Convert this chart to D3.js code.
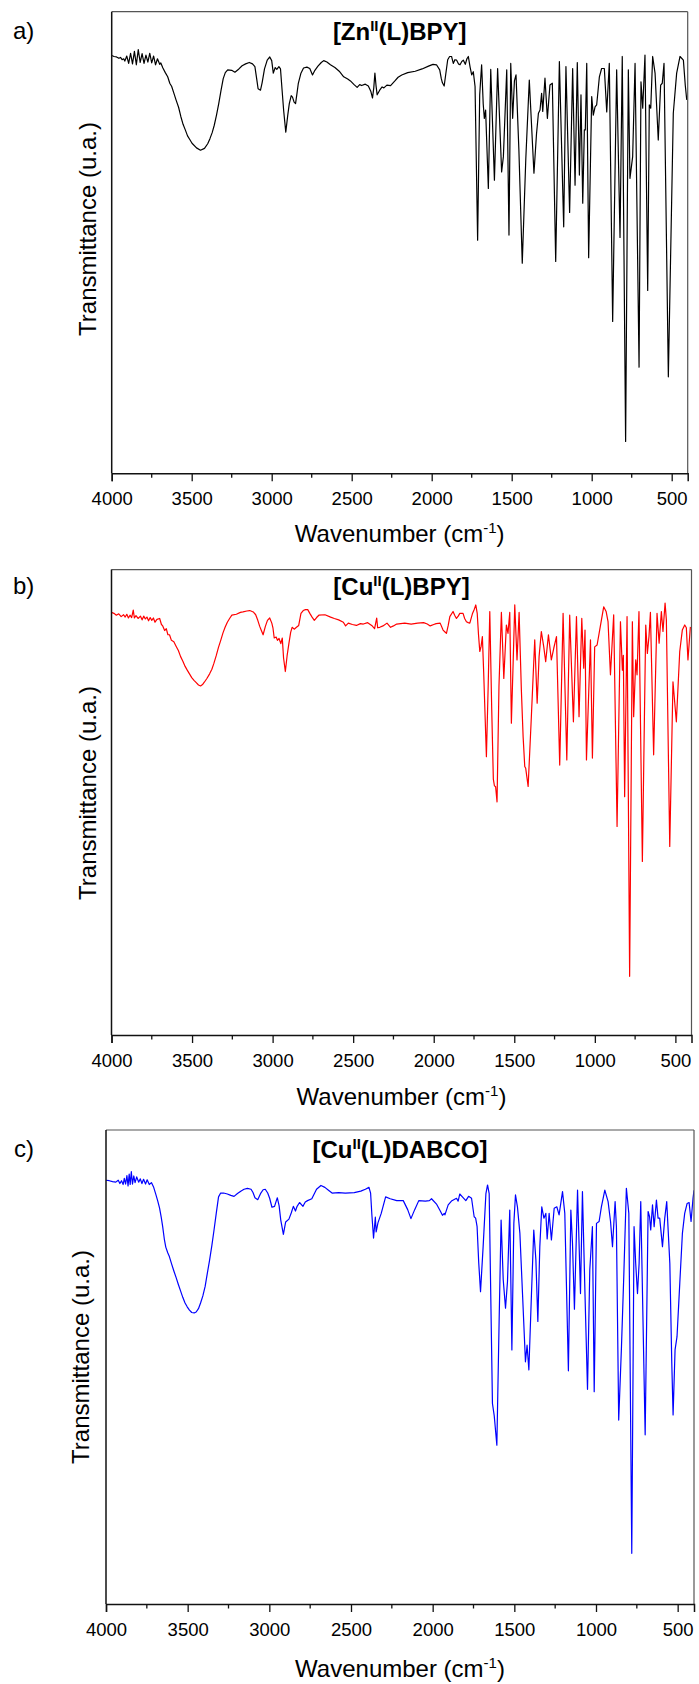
<!DOCTYPE html>
<html>
<head>
<meta charset="utf-8">
<script src="https://cdn.jsdelivr.net/npm/d3@7"></script>
<style>
  body { margin: 0; background: #fff; }
  svg { display: block; font-family: "Liberation Sans", Arial, sans-serif; }
</style>
</head>
<body>
<div id="chart"></div>
<script>
// axis ticks (wavenumber, cm-1)
const xTicks = [4000, 3500, 3000, 2500, 2000, 1500, 1000, 500];
const minorTicks = [3750, 3250, 2750, 2250, 1750, 1250, 750];

const panelLetters = ['a)', 'b)', 'c)'];
const titleHead = ['[Zn', '[Cu', '[Cu'];
const titleSup = ['II', 'II', 'II'];
const titleTail = ['(L)BPY]', '(L)BPY]', '(L)DABCO]'];
const lineColors = ['#000000', '#ff0000', '#0000ff'];

// spectra: [wavenumber, transmittance (arb., 0 = frame bottom, 100 = frame top)]
const spectrumA = [
  [4000,90.5],[3985,90.3],[3970,90.2],[3955,89.9],[3945,90.1],[3935,89.6],[3925,89.8],[3918,89.3],[3906,90.4],[3894,88.8],
  [3882,91.0],[3870,88.7],[3858,91.4],[3846,88.5],[3834,91.8],[3822,89.0],[3810,90.9],[3798,88.8],[3786,90.6],[3774,89.1],
  [3762,91.0],[3750,88.9],[3738,90.4],[3726,88.5],[3714,89.8],[3700,88.6],[3693,88.9],[3680,87.8],[3665,86.8],[3650,85.9],
  [3637,84.5],[3625,83.8],[3610,82.2],[3598,80.9],[3582,79.3],[3568,77.3],
  [3554,75.6],[3540,74.4],[3526,73.1],[3512,72.3],[3498,71.5],[3470,70.5],[3445,70.0],[3420,70.4],[3400,71.4],[3386,72.5],
  [3372,73.8],[3359,75.4],[3345,77.6],[3331,80.1],[3317,82.9],[3303,85.5],[3290,86.8],[3275,87.4],[3250,87.3],[3230,86.9],
  [3205,87.6],[3185,88.3],[3163,88.7],[3140,89.0],[3120,88.7],[3105,88.1],[3092,85.0],[3085,83.3],[3070,83.0],[3060,84.6],
  [3045,87.6],[3028,89.5],[3012,90.2],[3000,89.4],[2990,86.7],[2978,87.9],[2968,87.5],[2955,88.1],[2945,87.6],[2935,83.0],
  [2925,78.5],[2912,73.9],[2900,77.5],[2890,80.1],[2878,81.8],[2870,81.5],[2860,80.4],[2851,80.1],[2842,82.3],[2834,84.4],
  [2818,86.6],[2801,87.8],[2780,88.0],[2762,87.7],[2745,86.3],[2730,87.3],[2711,88.2],[2690,89.0],[2675,89.4],[2655,89.1],
  [2633,88.5],[2605,87.9],[2578,87.1],[2550,85.9],[2525,85.4],[2508,85.0],[2485,84.2],[2466,83.6],[2450,84.2],[2438,84.0],
  [2415,84.3],[2396,83.9],[2380,82.7],[2370,81.3],[2362,83.5],[2355,86.7],[2348,84.0],[2341,82.0],[2325,83.0],[2310,83.7],
  [2299,83.5],[2280,84.1],[2257,84.0],[2230,85.0],[2210,85.8],[2187,86.3],[2150,86.8],[2103,87.1],[2060,87.6],[2020,88.2],
  [1992,88.6],[1970,88.5],[1950,87.4],[1940,85.5],[1933,84.6],[1922,83.9],[1912,86.5],[1900,89.6],[1888,90.3],[1876,90.3],
  [1865,88.8],[1855,89.6],[1844,89.5],[1833,88.7],[1823,88.5],[1812,89.2],[1802,89.5],[1790,88.6],[1780,89.8],[1771,90.3],
  [1760,88.0],[1750,86.3],[1740,87.0],[1729,83.8],[1713,50.5],[1700,82.0],[1688,88.5],[1678,80.0],[1671,76.9],[1663,78.7],
  [1646,61.7],[1631,87.5],[1608,63.5],[1588,87.7],[1563,65.3],[1552,68.6],[1531,87.4],[1517,51.6],[1506,88.8],[1494,76.9],
  [1483,85.0],[1473,86.3],[1455,70.0],[1434,45.5],[1412,68.0],[1390,85.2],[1361,65.0],[1345,73.5],[1333,78.0],[1323,78.7],
  [1313,82.3],[1306,78.4],[1292,85.6],[1277,76.9],[1261,84.1],[1246,84.5],[1225,45.9],[1202,89.2],[1175,53.4],[1161,88.1],
  [1138,56.5],[1119,87.7],[1104,62.4],[1090,89.0],[1077,64.6],[1067,82.0],[1056,58.5],[1046,74.4],[1040,74.4],[1031,88.8],
  [1019,46.7],[1000,81.6],[990,77.6],[979,79.4],[969,79.8],[952,85.9],[938,87.7],[921,87.7],[906,78.3],[890,88.8],
  [869,32.9],[844,87.4],[823,51.1],[809,90.3],[788,6.9],[771,87.4],[761,63.9],[744,68.6],[729,88.8],[704,23.0],
  [692,84.8],[681,79.1],[667,90.6],[650,39.6],[640,79.8],[631,79.1],[619,90.3],[604,86.7],[584,72.2],[569,84.1],
  [559,84.5],[548,88.8],[521,20.9],[490,78.0],[469,86.7],[448,90.3],[427,89.5],[415,84.0],[406,80.9]
];

const spectrumB = [
  [4000,90.8],[3985,90.6],[3970,90.2],[3955,90.5],[3940,89.9],[3925,90.3],[3915,89.8],[3905,90.4],[3895,89.6],[3885,90.2],
  [3875,89.7],[3865,91.3],[3858,89.6],[3848,90.1],[3835,89.5],[3820,90.0],[3810,89.2],[3800,90.0],[3790,89.4],[3780,89.8],
  [3770,89.0],[3760,89.7],[3750,89.1],[3740,89.6],[3730,88.7],[3718,89.3],[3701,89.5],[3690,88.2],[3682,87.9],[3670,86.9],
  [3660,87.3],[3650,86.0],[3640,86.0],[3628,84.8],[3613,84.5],[3600,83.6],[3585,82.6],[3571,81.3],[3557,80.3],[3543,79.2],
  [3530,78.4],[3516,77.6],[3502,76.8],[3488,76.2],[3474,75.7],[3460,75.2],[3447,75.0],[3435,75.3],[3424,75.8],[3408,76.6],
  [3391,77.6],[3377,78.6],[3364,79.9],[3350,81.5],[3336,83.3],[3322,84.8],[3308,86.4],[3295,87.6],[3281,88.7],[3267,89.5],
  [3253,90.2],[3225,90.4],[3200,90.8],[3184,90.9],[3160,91.1],[3142,91.2],[3120,90.9],[3105,90.3],[3092,89.1],[3080,87.8],
  [3073,87.2],[3059,86.0],[3045,87.8],[3032,89.1],[3018,89.6],[3005,88.5],[2998,87.5],[2990,85.3],[2978,85.5],[2970,84.8],
  [2960,85.2],[2949,84.1],[2940,85.3],[2932,81.0],[2921,78.1],[2910,81.5],[2899,84.1],[2888,86.5],[2879,87.6],[2866,87.2],
  [2852,87.6],[2838,88.0],[2824,90.6],[2810,91.2],[2796,91.4],[2782,91.4],[2769,90.6],[2755,89.8],[2741,89.1],[2727,89.7],
  [2713,90.2],[2675,90.3],[2640,89.8],[2617,89.5],[2590,89.2],[2561,88.7],[2547,87.9],[2530,88.5],[2505,88.2],[2480,88.0],
  [2455,88.4],[2437,88.3],[2410,88.6],[2385,88.0],[2367,87.3],[2354,89.6],[2348,87.5],[2335,87.6],[2315,87.9],[2290,88.5],
  [2268,87.6],[2250,87.9],[2230,88.3],[2180,88.5],[2140,88.3],[2100,88.5],[2063,88.6],[2040,88.3],[2022,87.9],[2000,88.2],
  [1985,88.4],[1960,88.5],[1942,87.0],[1930,86.6],[1921,86.3],[1910,88.0],[1900,89.9],[1880,91.0],[1870,90.2],[1859,89.5],
  [1848,90.0],[1838,90.6],[1818,90.6],[1808,89.5],[1797,88.8],[1786,88.6],[1776,88.5],[1760,90.5],[1748,91.5],[1739,92.4],
  [1730,90.6],[1722,86.0],[1714,82.4],[1706,83.5],[1698,85.6],[1690,78.0],[1673,59.8],[1662,75.0],[1652,91.0],[1640,70.0],
  [1630,55.0],[1623,53.5],[1616,53.4],[1607,50.1],[1595,75.0],[1580,90.8],[1565,76.6],[1549,88.1],[1539,86.3],[1528,90.8],
  [1518,67.0],[1507,80.0],[1497,92.4],[1483,80.6],[1470,90.8],[1456,74.1],[1445,64.0],[1435,57.7],[1429,57.3],[1414,53.4],
  [1394,68.4],[1373,84.9],[1358,71.3],[1346,81.3],[1332,86.7],[1317,83.4],[1305,80.2],[1288,86.0],[1270,80.6],[1255,83.1],
  [1238,85.6],[1218,58.0],[1197,90.6],[1174,59.1],[1156,90.2],[1133,67.3],[1114,89.9],[1098,68.4],[1081,89.5],[1069,78.8],
  [1061,87.0],[1052,59.1],[1027,84.9],[1015,59.5],[1001,83.4],[986,83.8],[970,87.0],[945,92.0],[930,91.0],[918,88.8],
  [903,77.4],[883,90.3],[862,44.8],[841,88.8],[829,78.4],[823,81.6],[815,51.2],[800,89.9],[784,12.6],[767,88.8],
  [759,68.4],[746,80.6],[738,77.4],[726,91.0],[705,37.3],[684,88.1],[674,82.0],[664,85.6],[655,90.8],[635,60.2],
  [614,90.6],[601,84.2],[587,91.0],[577,86.7],[564,92.8],[556,89.2],[535,40.5],[515,75.9],[494,67.3],[473,82.4],
  [457,87.0],[442,88.1],[432,87.5],[422,80.6],[407,87.7]
];

const spectrumC = [
  [4000,89.4],[3980,89.3],[3960,89.1],[3940,89.0],[3925,89.4],[3915,88.7],[3905,89.3],[3895,88.5],[3888,89.8],[3880,88.6],
  [3872,90.4],[3865,88.2],[3858,90.7],[3852,88.5],[3845,91.2],[3838,88.6],[3830,90.3],[3822,88.9],[3812,90.1],[3800,89.0],
  [3790,89.7],[3780,88.7],[3770,89.6],[3758,88.6],[3748,89.5],[3735,88.5],[3722,88.9],[3708,87.9],[3694,86.3],[3683,85.0],
  [3672,83.5],[3662,81.6],[3653,79.6],[3643,77.0],[3634,75.3],[3622,74.1],[3612,73.3],[3598,71.7],[3584,70.2],[3570,68.8],
  [3557,67.4],[3543,66.0],[3530,64.7],[3516,63.5],[3503,62.7],[3489,62.0],[3475,61.5],[3460,61.4],[3448,61.6],[3434,62.3],
  [3421,63.5],[3407,65.0],[3393,67.0],[3380,69.7],[3366,72.5],[3352,75.6],[3339,78.8],[3325,82.4],[3311,85.9],[3298,86.7],
  [3280,86.7],[3257,86.5],[3236,86.2],[3216,86.0],[3195,86.6],[3175,87.1],[3155,87.5],[3134,87.7],[3112,87.5],[3100,86.8],
  [3088,85.7],[3071,85.3],[3052,86.7],[3038,87.4],[3025,87.5],[3010,86.7],[2998,85.6],[2984,83.7],[2968,83.9],[2958,85.0],
  [2951,85.7],[2940,84.0],[2930,81.0],[2914,78.0],[2900,80.6],[2880,81.2],[2866,82.5],[2853,83.9],[2840,82.9],[2830,83.9],
  [2815,84.7],[2794,83.9],[2780,84.8],[2766,85.1],[2740,85.5],[2711,87.5],[2684,88.3],[2660,87.9],[2638,87.3],[2616,86.7],
  [2575,86.8],[2535,86.7],[2480,86.8],[2440,87.1],[2412,87.5],[2390,87.9],[2380,86.7],[2372,82.0],[2362,77.2],[2351,81.6],
  [2346,78.5],[2335,80.4],[2315,82.4],[2288,85.9],[2260,85.5],[2220,85.1],[2180,85.1],[2153,83.2],[2133,81.3],[2110,83.2],
  [2085,85.1],[2045,85.0],[2020,85.1],[2007,85.5],[1975,84.3],[1955,83.0],[1940,82.0],[1929,82.4],[1925,82.1],[1905,84.2],
  [1885,85.0],[1854,85.6],[1844,85.0],[1834,86.5],[1818,85.9],[1797,85.1],[1780,86.0],[1762,85.6],[1746,81.7],[1737,81.4],
  [1728,79.6],[1718,72.0],[1707,65.9],[1691,75.4],[1674,86.6],[1664,88.4],[1654,86.6],[1634,42.3],[1623,39.7],[1607,33.5],
  [1593,59.9],[1581,81.0],[1568,68.4],[1554,62.4],[1542,68.0],[1528,83.1],[1515,53.6],[1503,80.3],[1493,86.3],[1481,83.8],
  [1466,78.2],[1450,65.5],[1432,51.1],[1422,54.6],[1411,49.4],[1395,65.5],[1381,78.9],[1368,72.6],[1356,59.6],[1344,75.4],
  [1332,83.8],[1319,81.4],[1307,82.4],[1299,77.0],[1287,82.4],[1273,76.8],[1256,83.5],[1240,83.8],[1226,82.1],[1205,87.0],
  [1191,82.4],[1169,49.2],[1154,83.1],[1144,76.1],[1132,62.2],[1113,87.3],[1095,65.5],[1083,87.0],[1067,64.8],[1052,45.3],
  [1038,70.5],[1022,79.6],[1011,44.8],[997,80.3],[981,80.7],[967,83.8],[946,87.3],[926,84.9],[911,80.7],[899,75.4],
  [883,84.9],[875,79.6],[861,38.8],[844,54.3],[830,69.1],[814,87.7],[799,82.4],[781,10.7],[767,79.6],[757,71.9],
  [746,65.5],[736,71.9],[726,84.9],[699,35.7],[681,82.8],[672,81.7],[665,78.9],[654,84.2],[644,79.6],[630,85.2],
  [620,81.4],[610,81.4],[593,75.4],[579,81.4],[567,84.9],[548,71.9],[536,50.8],[528,39.9],[516,53.6],[504,56.4],
  [487,67.7],[471,78.2],[457,82.4],[442,84.5],[430,84.7],[418,80.7],[406,85.6],[400,87.3]
];

const spectra = [spectrumA, spectrumB, spectrumC];

// frame layout for each panel
const layout = [
  { left: 111.7, right: 687.7, top: 11.7, bottom: 473.3, letterX: 13, ylabX: 96, ylabY: 229, xlabY: 542, titleY: 40 },
  { left: 111.5, right: 691.5, top: 569.6, bottom: 1035, letterX: 13, ylabX: 96, ylabY: 793, xlabY: 1105, titleY: 595 },
  { left: 106, right: 694, top: 1130, bottom: 1604, letterX: 14, ylabX: 89, ylabY: 1357, xlabY: 1677, titleY: 1158 }
];

const W = 699, H = 1684;
const svg = d3.select('#chart').append('svg')
  .attr('width', W)
  .attr('height', H);

layout.forEach((p, i) => {
  const g = svg.append('g');

  const x = d3.scaleLinear().domain([4000, 400]).range([p.left, p.right]);
  const y = d3.scaleLinear().domain([0, 100]).range([p.bottom, p.top]);

  // clip
  svg.append('clipPath').attr('id', 'clip' + i)
    .append('rect')
    .attr('x', p.left).attr('y', p.top)
    .attr('width', p.right - p.left).attr('height', p.bottom - p.top);

  // spectrum
  const line = d3.line()
    .x(d => x(d[0]))
    .y(d => y(d[1]));

  g.append('path')
    .datum(spectra[i])
    .attr('clip-path', `url(#clip${i})`)
    .attr('fill', 'none')
    .attr('stroke', lineColors[i])
    .attr('stroke-width', 1.2)
    .attr('stroke-linejoin', 'round')
    .attr('d', line);

  // frame: top / right lighter, left / bottom dark
  g.append('line')
    .attr('x1', p.left).attr('x2', p.right)
    .attr('y1', p.top).attr('y2', p.top)
    .attr('stroke', '#555').attr('stroke-width', 1.2);
  g.append('line')
    .attr('x1', p.right).attr('x2', p.right)
    .attr('y1', p.top).attr('y2', p.bottom)
    .attr('stroke', '#555').attr('stroke-width', 1.2);
  g.append('line')
    .attr('x1', p.left).attr('x2', p.left)
    .attr('y1', p.top).attr('y2', p.bottom)
    .attr('stroke', '#111').attr('stroke-width', 1.5);

  // bottom axis
  const axis = g.append('g')
    .attr('transform', `translate(0,${p.bottom})`)
    .call(d3.axisBottom(x).tickValues(xTicks).tickSize(8).tickPadding(4).tickFormat(d3.format('d')));
  axis.select('.domain').attr('stroke', '#111').attr('stroke-width', 1.5);
  axis.selectAll('.tick line').attr('stroke', '#111').attr('stroke-width', 1.3);
  axis.selectAll('.tick text')
    .attr('font-family', '"Liberation Sans", Arial, sans-serif')
    .attr('font-size', 18.5)
    .attr('fill', '#000')
    .attr('dy', null)
    .attr('y', 31.7);

  g.selectAll('.minor')
    .data(minorTicks)
    .join('line')
    .attr('x1', d => x(d)).attr('x2', d => x(d))
    .attr('y1', p.bottom).attr('y2', p.bottom + 4.5)
    .attr('stroke', '#111').attr('stroke-width', 1.3);

  // panel letter
  g.append('text')
    .attr('x', p.letterX)
    .attr('y', p.titleY - 1)
    .attr('font-size', 24)
    .attr('fill', '#000')
    .text(panelLetters[i]);

  // title with superscript
  const t = g.append('text')
    .attr('x', (p.left + p.right) / 2)
    .attr('y', p.titleY)
    .attr('text-anchor', 'middle')
    .attr('font-size', 24)
    .attr('font-weight', 'bold')
    .attr('fill', '#000');
  t.append('tspan').text(titleHead[i]);
  t.append('tspan').attr('font-size', 15).attr('dy', -9).text(titleSup[i]);
  t.append('tspan').attr('dy', 9).text(titleTail[i]);

  // x axis title
  const xl = g.append('text')
    .attr('x', (p.left + p.right) / 2)
    .attr('y', p.xlabY)
    .attr('text-anchor', 'middle')
    .attr('font-size', 24)
    .attr('fill', '#000');
  xl.append('tspan').text('Wavenumber (cm');
  xl.append('tspan').attr('font-size', 15).attr('dy', -9).text('-1');
  xl.append('tspan').attr('dy', 9).text(')');

  // y axis title
  g.append('text')
    .attr('transform', `translate(${p.ylabX},${p.ylabY}) rotate(-90)`)
    .attr('text-anchor', 'middle')
    .attr('font-size', 24)
    .attr('fill', '#000')
    .text('Transmittance (u.a.)');
});
</script>
</body>
</html>
